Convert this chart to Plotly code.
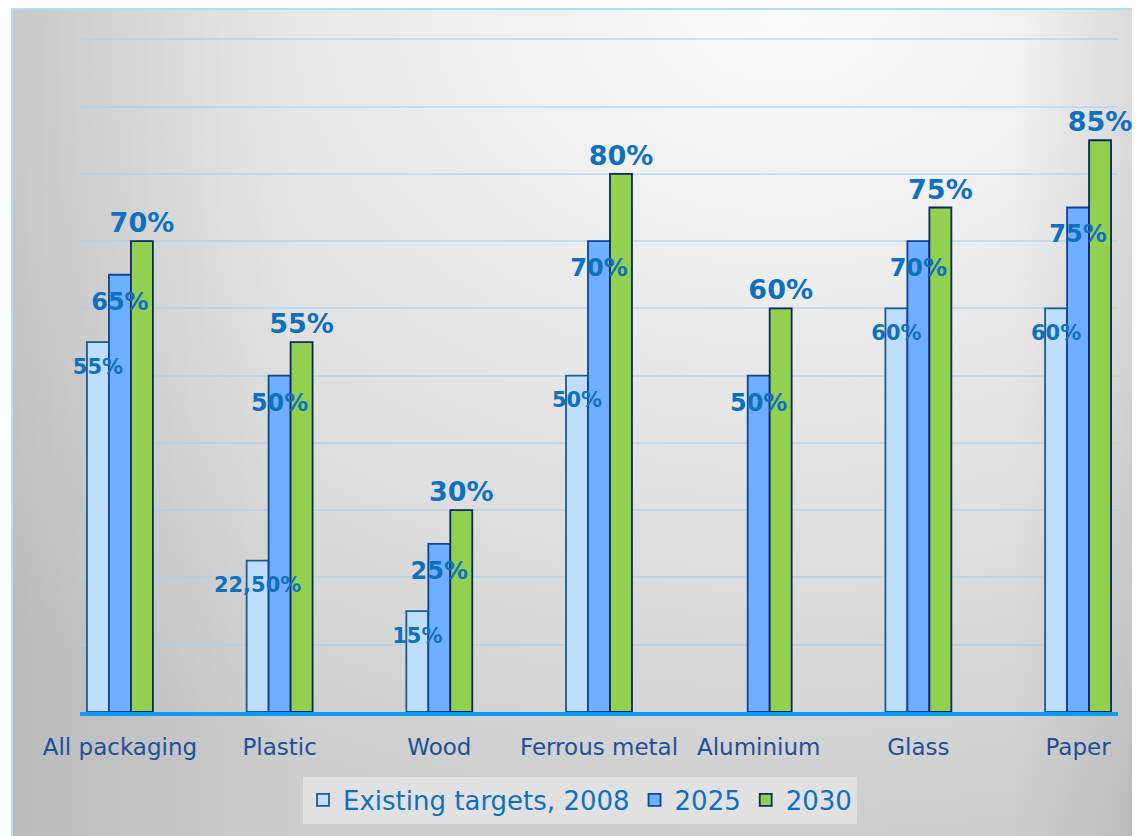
import numpy as np
import plotly.graph_objects as go

# Packaging recycling targets
categories = ["All packaging", "Plastic", "Wood", "Ferrous metal", "Aluminium", "Glass", "Paper"]
targets_2008 = [0.55, 0.225, 0.15, 0.50, None, 0.60, 0.60]
targets_2025 = [0.65, 0.50, 0.25, 0.70, 0.50, 0.70, 0.75]
targets_2030 = [0.70, 0.55, 0.30, 0.80, 0.60, 0.75, 0.85]
labels_2008 = ["55%", "22,50%", "15%", "50%", "", "60%", "60%"]
labels_2025 = ["65%", "50%", "25%", "70%", "50%", "70%", "75%"]
labels_2030 = ["70%", "55%", "30%", "80%", "60%", "75%", "85%"]

# page body has an 8px margin, so the figure sits 8px in from the window
W, H = 1140, 836
L, R, T, B = 72, 30, 30, 132
pw, ph = W - L - R, H - T - B

xs = np.arange(len(categories))
bargap = 0.587
bw = (1 - bargap) / 3

lab_blue = "#1070c0"
bold = "DejaVu Sans"

fig = go.Figure()

fig.add_trace(go.Bar(
    x=xs, y=targets_2008, name="Existing targets, 2008",
    marker=dict(color="#bfdeff", line=dict(color="#1d5a8c", width=1.8)),
))
fig.add_trace(go.Bar(
    x=xs, y=targets_2025, name="2025",
    marker=dict(color="#6eb0ff", line=dict(color="#0d4694", width=1.8)),
))
fig.add_trace(go.Bar(
    x=xs, y=targets_2030, name="2030",
    marker=dict(color="#92d050", line=dict(color="#0b2860", width=1.8)),
    text=labels_2030, textposition="outside", constraintext="none", textangle=0,
    textfont=dict(family=bold, size=27, color=lab_blue, weight="bold"),
    cliponaxis=False,
))

# labels inside the top of the 2008 / 2025 bars
y08 = [v - 0.039 if v is not None else None for v in targets_2008]
y25 = [v - 0.043 for v in targets_2025]
fig.add_trace(go.Scatter(
    x=xs - bw, y=y08, mode="text", text=labels_2008, showlegend=False,
    textfont=dict(family=bold, size=21, color=lab_blue, weight="bold"),
    cliponaxis=False, hoverinfo="skip",
))
fig.add_trace(go.Scatter(
    x=xs, y=y25, mode="text", text=labels_2025, showlegend=False,
    textfont=dict(family=bold, size=24, color=lab_blue, weight="bold"),
    cliponaxis=False, hoverinfo="skip",
))

# gradient background of the chart frame
svg = (
    "<svg xmlns='http://www.w3.org/2000/svg' width='1128' height='828' preserveAspectRatio='none'>"
    "<defs><radialGradient id='g' cx='0.68' cy='0.0' r='1.0'>"
    "<stop offset='0' stop-color='#fbfbfb'/><stop offset='0.5' stop-color='#e5e5e5'/>"
    "<stop offset='1' stop-color='#cdcdcd'/></radialGradient>"
    "<linearGradient id='e' x1='0' y1='0' x2='1' y2='0'>"
    "<stop offset='0' stop-color='#000' stop-opacity='0.09'/>"
    "<stop offset='0.25' stop-color='#000' stop-opacity='0'/>"
    "<stop offset='0.88' stop-color='#000' stop-opacity='0'/>"
    "<stop offset='1' stop-color='#000' stop-opacity='0.09'/></linearGradient></defs>"
    "<rect width='1128' height='828' fill='url(#g)'/>"
    "<rect width='1128' height='828' fill='url(#e)'/></svg>"
)
src = "data:image/svg+xml;utf8," + svg.replace("#", "%23").replace("<", "%3C").replace(">", "%3E")

fx0 = (4 - L) / pw
fy0 = (H - B) / ph
fsx = (W - 4) / pw
fsy = H / ph

fig.add_layout_image(dict(
    source=src, xref="paper", yref="paper", x=fx0, y=fy0,
    sizex=fsx, sizey=fsy, xanchor="left", yanchor="top",
    sizing="stretch", layer="below",
))
fig.add_shape(type="rect", xref="paper", yref="paper",
              x0=fx0, y0=fy0 - fsy - 0.01, x1=fx0 + fsx + 0.01, y1=fy0 - 1 / ph,
              line=dict(color="#b3dbf8", width=2), fillcolor="rgba(0,0,0,0)", layer="below")

fig.update_layout(
    width=W, height=H,
    margin=dict(l=L, r=R, t=T, b=B),
    paper_bgcolor="white",
    plot_bgcolor="rgba(0,0,0,0)",
    barmode="group", bargap=bargap, bargroupgap=0,
    xaxis=dict(
        range=[-0.25, 6.25], tickvals=xs, ticktext=categories,
        showgrid=False, zeroline=False, ticks="",
        showline=True, linecolor="#0b9af5", linewidth=4,
        tickfont=dict(family="DejaVu Sans", size=23, color="#1f4f98"),
        ticklabelstandoff=11,
    ),
    yaxis=dict(
        range=[0, 1.002], tickvals=[i / 10 for i in range(1, 11)], showticklabels=False,
        showgrid=True, gridcolor="rgba(170,208,238,0.6)", gridwidth=2,
        zeroline=False,
    ),
    legend=dict(
        orientation="h", x=(572 - L) / pw, y=(H - B - 792) / ph,
        xanchor="center", yanchor="middle",
        bgcolor="#e1e1e1", borderwidth=0,
        font=dict(family="DejaVu Sans", size=26, color=lab_blue),
        itemwidth=30, tracegroupgap=0,
    ),
    showlegend=True,
)

fig.write_html("out.html")
